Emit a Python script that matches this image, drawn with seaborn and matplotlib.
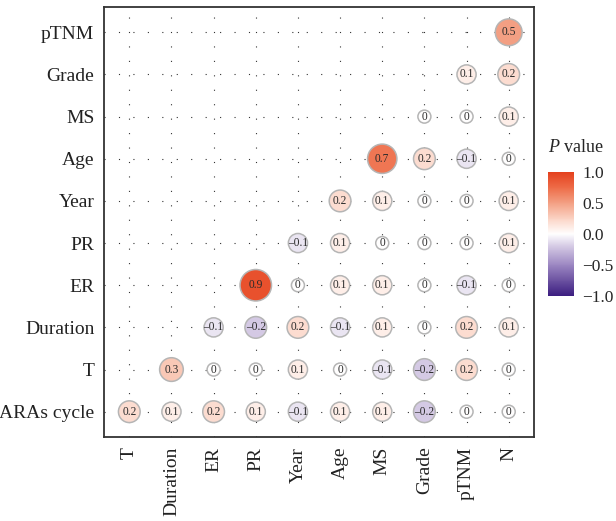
import numpy as np
import pandas as pd
import matplotlib
matplotlib.use("Agg")
import matplotlib.pyplot as plt
from matplotlib.colors import LinearSegmentedColormap, Normalize
import seaborn as sns

sns.set_style("white")
plt.rcParams['font.family'] = ['Liberation Serif', 'DejaVu Serif']
plt.rcParams['mathtext.fontset'] = 'custom'
plt.rcParams['mathtext.rm'] = 'Liberation Serif'
plt.rcParams['mathtext.it'] = 'Liberation Serif:italic'

# variables on each axis
x_labels = ["T", "Duration", "ER", "PR", "Year", "Age", "MS", "Grade", "pTNM", "N"]
y_labels = ["ARAs cycle", "T", "Duration", "ER", "PR", "Year", "Age", "MS", "Grade", "pTNM"]

# correlation values, one row per y label (None = empty cell)
ARAs_cycle = [0.2, 0.1, 0.2, 0.1, -0.1, 0.1, 0.1, -0.2, 0, 0]
T_row = [None, 0.3, 0, 0, 0.1, 0, -0.1, -0.2, 0.2, 0]
Duration_row = [None, None, -0.1, -0.2, 0.2, -0.1, 0.1, 0, 0.2, 0.1]
ER_row = [None, None, None, 0.9, 0, 0.1, 0.1, 0, -0.1, 0]
PR_row = [None, None, None, None, -0.1, 0.1, 0, 0, 0, 0.1]
Year_row = [None, None, None, None, None, 0.2, 0.1, 0, 0, 0.1]
Age_row = [None] * 6 + [0.7, 0.2, -0.1, 0]
MS_row = [None] * 7 + [0, 0, 0.1]
Grade_row = [None] * 8 + [0.1, 0.2]
pTNM_row = [None] * 9 + [0.5]

rows = [ARAs_cycle, T_row, Duration_row, ER_row, PR_row,
        Year_row, Age_row, MS_row, Grade_row, pTNM_row]

recs = []
for yi, row in enumerate(rows):
    for xi, v in enumerate(row):
        if v is not None:
            recs.append({"x": xi, "y": yi, "r": v})
df = pd.DataFrame(recs)

# marker diameter in px grows with sqrt(|r|)
diam_px = 13 + 19.5 * np.sqrt(df["r"].abs())
df["area"] = (diam_px * 0.72) ** 2

cmap = LinearSegmentedColormap.from_list(
    "pval",
    [(0.0, "#3b1d80"), (0.25, "#9c87c2"), (0.4, "#d4c9e4"), (0.5, "#ffffff"),
     (0.6, "#fcdcd0"), (0.75, "#f3a084"), (0.87, "#ee6e4a"), (1.0, "#e4401d")])
norm = Normalize(-1, 1)

fig = plt.figure(figsize=(6.16, 5.21), dpi=100)
ax = fig.add_axes([104 / 616, 1 - 437 / 521, 430 / 616, 430 / 521])

# dotted guide lines
for i in range(10):
    ax.axhline(i, color="#333333", lw=0.8, ls=(0, (1, 12)), zorder=0)
    ax.axvline(i, color="#333333", lw=0.8, ls=(0, (1, 12)), zorder=0)

sns.scatterplot(data=df, x="x", y="y", hue="r", palette=cmap, hue_norm=norm,
                s=df["area"].values, edgecolor="#b5b5b5", linewidth=1.1,
                legend=False, ax=ax, zorder=3)

for _, rec in df.iterrows():
    v = rec["r"]
    lab = "0" if v == 0 else f"{v:.1f}".replace("-", "\u2013")
    ax.text(rec["x"], rec["y"], lab, ha="center", va="center",
            fontsize=8.3, color="#2b2b2b", zorder=4)

ax.set_xlim(-0.6, 9.6)
ax.set_ylim(-0.6, 9.6)
ax.set_xticks(range(10))
ax.set_xticklabels(x_labels, rotation=90, fontsize=14)
ax.set_yticks(range(10))
ax.set_yticklabels(y_labels, fontsize=14)
ax.set_xlabel("")
ax.set_ylabel("")
ax.tick_params(axis="both", length=4, width=1, color="#333333", labelcolor="#222222", pad=3)
for sp in ax.spines.values():
    sp.set_color("#333333")
    sp.set_linewidth(1.3)

# colour bar
cax = fig.add_axes([548 / 616, 1 - 296 / 521, 26 / 616, 124 / 521])
sm = plt.cm.ScalarMappable(cmap=cmap, norm=norm)
cb = fig.colorbar(sm, cax=cax, ticks=[-1, -0.5, 0, 0.5, 1])
cb.outline.set_visible(False)
cb.ax.set_yticklabels(["\u22121.0", "\u22120.5", "0.0", "0.5", "1.0"], fontsize=12.5)
cb.ax.tick_params(length=5, width=1, color="white", direction="in", pad=6)
cb.ax.tick_params(which="minor", length=0)
fig.text(548 / 616, 1 - 147 / 521, "$P$ value", fontsize=13, va="center", ha="left")

fig.savefig("out.png", dpi=100)
